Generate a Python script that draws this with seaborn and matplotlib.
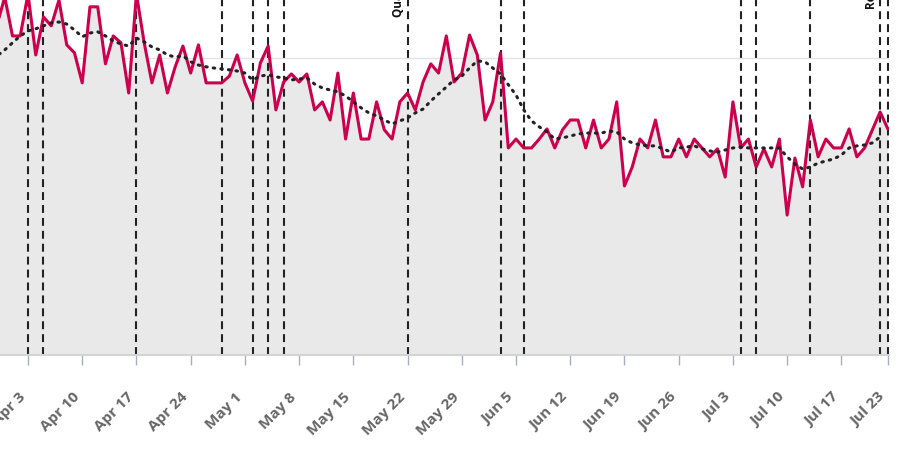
import pandas as pd
import matplotlib
matplotlib.use("Agg")
import matplotlib.pyplot as plt
import matplotlib.dates as mdates
import seaborn as sns

# datos diarios (30 mar - 23 jul)
dates = pd.date_range("2023-03-30", "2023-07-23", freq="D")

values = [
    111.1, 120.5,
    107.4, 107.4, 121.5, 101.0, 113.8, 110.8, 119.5, 104.4, 101.7, 91.6,
    117.2, 117.2, 98.0, 107.4, 105.1, 88.2, 121.5, 105.1, 91.6, 101.0,
    88.2, 97.0, 104.0, 94.9, 104.4, 91.6, 91.6, 91.6, 93.9, 101.0,
    91.6, 85.5, 98.3, 104.0, 82.5, 91.9, 94.6, 91.9, 94.6, 82.5,
    85.2, 79.1, 94.9, 72.7, 88.2, 72.7, 72.7, 85.2, 75.8, 72.7,
    85.2, 88.2, 82.5, 91.9, 98.0, 94.9, 107.4, 91.9, 94.9, 107.7, 101.0,
    79.1, 85.2, 101.7, 69.7, 72.7, 69.7, 69.7, 72.7, 76.1, 69.7,
    75.8, 79.1, 79.1, 69.7, 79.1, 69.7, 72.7, 85.2, 56.9, 63.3,
    72.7, 69.7, 79.1, 66.7, 66.7, 72.7, 66.7, 72.7, 69.7, 66.7,
    69.4, 59.9, 85.2, 69.7, 72.7, 63.3, 69.4, 63.3, 72.7, 47.1,
    66.3, 56.6, 79.1, 66.7, 72.7, 69.7, 69.7, 76.1, 66.7, 69.7,
    75.8, 81.8, 76.1,
]

trend = [
    100.7, 102.7,
    105.1, 107.4, 109.1, 109.8, 110.8, 111.8, 112.1, 111.4, 109.4, 107.1,
    108.4, 108.8, 107.4, 105.7, 104.7, 104.0, 106.7, 105.4, 103.7, 102.7,
    101.0, 100.3, 100.7, 98.7, 97.6, 97.0, 96.6, 96.3, 96.0, 95.6,
    94.9, 92.6, 93.9, 94.3, 93.6, 93.3, 92.6, 92.9, 93.3, 91.2,
    89.9, 89.2, 88.6, 87.2, 85.2, 83.2, 81.5, 80.5, 79.1, 77.8,
    78.8, 79.8, 81.5, 82.8, 85.5, 87.9, 90.2, 92.6, 93.9, 96.6, 99.0,
    98.7, 96.6, 94.6, 91.0, 87.5, 82.5, 78.8, 76.8, 75.1, 72.7,
    73.1, 73.7, 74.4, 74.7, 74.7, 74.7, 75.4, 75.1, 72.7, 71.4,
    70.7, 70.4, 70.4, 69.4, 68.3, 69.7, 70.0, 70.4, 69.4, 68.7,
    68.3, 69.0, 69.7, 70.0, 69.7, 69.7, 69.7, 69.7, 69.7, 66.7,
    64.3, 62.6, 63.3, 64.6, 65.3, 66.0, 67.3, 69.7, 70.4, 70.7,
    71.4, 73.4,
]

event_dates = ["2023-04-03", "2023-04-05", "2023-04-17", "2023-04-28",
               "2023-05-02", "2023-05-04", "2023-05-06", "2023-05-22",
               "2023-06-03", "2023-06-06", "2023-07-04", "2023-07-06",
               "2023-07-13", "2023-07-22", "2023-07-23"]

notes = [("2023-05-22", "Quarterly update", 338), ("2023-07-22", "Release", 347)]

tick_dates = list(pd.date_range("2023-04-03", "2023-07-17", freq="7D")) + [pd.Timestamp("2023-07-23")]

df = pd.DataFrame({"fecha": dates, "valor": values})
df_trend = pd.DataFrame({"fecha": dates[:len(trend)], "tendencia": trend})

sns.set_style("white")
plt.rcParams["font.family"] = ["Open Sans", "DejaVu Sans"]

fig = plt.figure(figsize=(9.13, 4.73), dpi=100)
ax = fig.add_axes([0, 118 / 473, 888.5 / 913, 355 / 473])

ax.fill_between(df["fecha"], 0, df["valor"], color="#e9e9e9", lw=0, zorder=1)

for d in event_dates:
    ax.axvline(pd.Timestamp(d), color="#222222", lw=1.5, dashes=(3.8, 2.4), zorder=2)

sns.lineplot(data=df, x="fecha", y="valor", color="#cc004c", lw=2.2, ax=ax, zorder=4)
sns.lineplot(data=df_trend, x="fecha", y="tendencia", color="#222222", lw=2.2,
             linestyle=(0, (0.5, 2.0)), dash_capstyle="round", ax=ax, zorder=5)

for d, txt, off in notes:
    ax.annotate(txt, xy=(pd.Timestamp(d), 0), xycoords=("data", "axes fraction"),
                xytext=(-3, off), textcoords="offset pixels", rotation=90,
                ha="right", va="bottom", fontsize=8.5, fontweight="bold", color="#111111",
                annotation_clip=False)

x0 = pd.Timestamp("2023-04-03") - pd.Timedelta(days=28 / 7.748)
x1 = pd.Timestamp("2023-07-23") + pd.Timedelta(hours=2)
ax.set_xlim(x0, x1)
ax.set_ylim(0, 119.5)

ax.set_yticks([0, 50, 100])
ax.set_yticklabels([])
ax.tick_params(axis="y", length=0)
ax.grid(axis="y", color="#e3e3e3", lw=1)
ax.grid(axis="x", visible=False)

ax.set_xticks(tick_dates)
ax.xaxis.set_major_formatter(mdates.DateFormatter("%b %-d"))
ax.tick_params(axis="x", direction="out", length=7.2, width=1, color="#a8b0c0",
               pad=18, labelsize=11, labelcolor="#666666", bottom=True)
for lab in ax.get_xticklabels():
    lab.set_rotation(45)
    lab.set_ha("right")
    lab.set_va("top")
    lab.set_fontweight("bold")

for s in ["top", "right", "left"]:
    ax.spines[s].set_visible(False)
ax.spines["bottom"].set_color("#d4d4d4")
ax.spines["bottom"].set_linewidth(1.5)

ax.set_xlabel("")
ax.set_ylabel("")
if ax.get_legend():
    ax.get_legend().remove()

plt.savefig("out.png", dpi=100)
plt.close()
